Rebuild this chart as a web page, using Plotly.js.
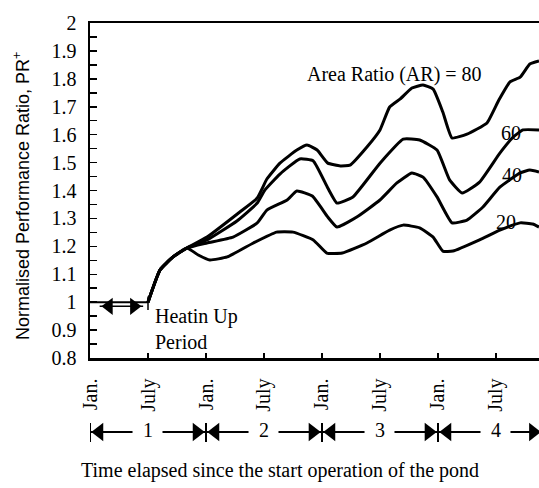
<!DOCTYPE html>
<html>
<head>
<meta charset="utf-8">
<script src="https://cdn.plot.ly/plotly-3.0.1.min.js"></script>
<style>html,body{margin:0;padding:0;background:#fff;}#chart{width:539px;height:488px;}</style>
</head>
<body>
<div id="chart"></div>
<script>
// ---- data (months since start of operation, normalised performance ratio) ----
var m80 = [6, 7.24, 8.59, 10.03, 12.1, 15.5, 17.3, 18.3, 19.65, 21.4, 22.45, 23.5, 24.6, 25.9, 26.9, 28.65, 30.0, 31.0, 32.1, 33.3, 34.45, 35.5, 36.5, 37.45, 39.0, 41.07, 42.3, 43.45, 44.5, 45.5, 46.45];
var v80 = [1.0, 1.115, 1.162, 1.194, 1.233, 1.323, 1.373, 1.441, 1.498, 1.545, 1.563, 1.545, 1.498, 1.488, 1.491, 1.556, 1.617, 1.699, 1.728, 1.767, 1.778, 1.763, 1.681, 1.588, 1.602, 1.642, 1.724, 1.789, 1.806, 1.853, 1.864];
var m60 = [6, 7.24, 8.59, 10.03, 12.1, 15.2, 17.3, 18.1, 19.65, 21.7, 23.1, 24.6, 25.55, 27.2, 30.0, 32.4, 34.1, 35.9, 37.2, 38.5, 40.3, 42.4, 43.8, 44.8, 46.45];
var v60 = [1.0, 1.115, 1.162, 1.194, 1.223, 1.291, 1.355, 1.402, 1.459, 1.513, 1.506, 1.409, 1.355, 1.377, 1.498, 1.584, 1.581, 1.545, 1.438, 1.391, 1.430, 1.534, 1.592, 1.617, 1.617];
var m40 = [6, 7.24, 8.59, 10.03, 12.1, 14.8, 17.3, 18.3, 20.4, 21.4, 23.0, 24.6, 25.55, 27.6, 30.0, 31.75, 33.3, 34.45, 35.9, 37.45, 39.0, 40.65, 42.4, 44.5, 45.5, 46.45];
var v40 = [1.0, 1.115, 1.162, 1.194, 1.212, 1.233, 1.284, 1.330, 1.366, 1.398, 1.380, 1.305, 1.269, 1.305, 1.366, 1.427, 1.463, 1.448, 1.377, 1.284, 1.294, 1.341, 1.412, 1.463, 1.473, 1.466];
var m20 = [6, 7.24, 8.59, 10.03, 11.2, 12.4, 14.2, 16.9, 19.3, 21.0, 23.1, 24.5, 26.1, 28.65, 31.0, 32.4, 34.1, 35.5, 36.5, 37.55, 40.3, 42.4, 44.5, 45.8, 46.45];
var v20 = [1.0, 1.115, 1.162, 1.194, 1.169, 1.151, 1.162, 1.212, 1.251, 1.251, 1.223, 1.176, 1.176, 1.212, 1.258, 1.276, 1.266, 1.233, 1.183, 1.183, 1.223, 1.258, 1.284, 1.280, 1.269];

var tickMonths = [0, 6, 12, 18, 24, 30, 36, 42];
var tickLabels = ['Jan.', 'July', 'Jan.', 'July', 'Jan.', 'July', 'Jan.', 'July'];
var yearLabels = ['1', '2', '3', '4'];
var yearStarts = [0, 12, 24, 36];
var yearEnds = [12, 24, 36, 46.8];
var heatStart = 0, heatEnd = 6;

var xMax = 46.45;
var serif = 'Liberation Serif, Times New Roman, serif';
var black = '#000';

// ---- traces ----
var traces = [];
function curve(m, v, name) {
  return {x: m, y: v, name: name, type: 'scatter', mode: 'lines',
    line: {color: black, width: 3, shape: 'spline', smoothing: 0.4},
    hoverinfo: 'skip', showlegend: false, cliponaxis: false};
}
traces.push(curve(m80, v80, 'AR=80'));
traces.push(curve(m60, v60, 'AR=60'));
traces.push(curve(m40, v40, 'AR=40'));
traces.push(curve(m20, v20, 'AR=20'));

// heating-up period double arrow (on main axes)
var tri = 0.96; // months from triangle tip to marker centre (size 16)
traces.push({x: [heatStart, heatEnd], y: [1.0, 1.0], mode: 'lines', line: {color: black, width: 2},
  showlegend: false, hoverinfo: 'skip', cliponaxis: false});
traces.push({x: [heatStart + 1.0, heatEnd - 0.5], y: [0.985, 0.985], mode: 'lines', line: {color: black, width: 1.5},
  showlegend: false, hoverinfo: 'skip', cliponaxis: false});
traces.push({x: [heatEnd, heatEnd], y: [0.972, 1.02], mode: 'lines', line: {color: black, width: 1.5},
  showlegend: false, hoverinfo: 'skip', cliponaxis: false});
traces.push({x: [heatStart + 1.0 + tri], y: [0.985], mode: 'markers',
  marker: {symbol: 'triangle-left', size: 15, color: black}, showlegend: false, hoverinfo: 'skip', cliponaxis: false});
traces.push({x: [heatEnd - 0.5 - tri], y: [0.985], mode: 'markers',
  marker: {symbol: 'triangle-right', size: 15, color: black}, showlegend: false, hoverinfo: 'skip', cliponaxis: false});

// year arrows row (on hidden yaxis2, units = pixels from bottom)
var rowY = 56;
var segX = [], segY = [], barX = [], barY = [], lX = [], rX = [], numX = [];
for (var i = 0; i < yearStarts.length; i++) {
  var s = yearStarts[i], e = yearEnds[i], mid = (yearStarts[i] + yearStarts[i] + 12) / 2;
  segX.push(s, mid - 1.6, null, mid + 1.5, e, null);
  segY.push(rowY, rowY, null, rowY, rowY, null);
  barX.push(s, s, null);
  barY.push(rowY - 10, rowY + 9, null);
  lX.push(s + tri);
  rX.push(e - tri);
  numX.push(mid);
}
traces.push({x: segX, y: segY, yaxis: 'y2', mode: 'lines', line: {color: black, width: 1.8},
  showlegend: false, hoverinfo: 'skip', cliponaxis: false});
traces.push({x: barX, y: barY, yaxis: 'y2', mode: 'lines', line: {color: black, width: 2},
  showlegend: false, hoverinfo: 'skip', cliponaxis: false});
traces.push({x: lX, y: lX.map(function(){return rowY;}), yaxis: 'y2', mode: 'markers',
  marker: {symbol: 'triangle-left', size: 16, color: black}, showlegend: false, hoverinfo: 'skip', cliponaxis: false});
traces.push({x: rX, y: rX.map(function(){return rowY;}), yaxis: 'y2', mode: 'markers',
  marker: {symbol: 'triangle-right', size: 16, color: black}, showlegend: false, hoverinfo: 'skip', cliponaxis: false});
traces.push({x: numX, y: numX.map(function(){return rowY;}), yaxis: 'y2', mode: 'text', text: yearLabels,
  textfont: {family: serif, size: 20, color: black}, textposition: 'middle center',
  showlegend: false, hoverinfo: 'skip', cliponaxis: false});

// ---- layout ----
var mainBottom = 130 / 465;
var annotations = [
  {text: 'Area Ratio (AR) = 80', x: 31.55, y: 1.814, xref: 'x', yref: 'y', showarrow: false,
    font: {family: serif, size: 20, color: black}},
  {text: '60', x: 43.55, y: 1.606, xref: 'x', yref: 'y', showarrow: false, font: {family: serif, size: 20, color: black}},
  {text: '40', x: 43.65, y: 1.455, xref: 'x', yref: 'y', showarrow: false, font: {family: serif, size: 20, color: black}},
  {text: '20', x: 43.03, y: 1.287, xref: 'x', yref: 'y', showarrow: false, font: {family: serif, size: 20, color: black}},
  {text: 'Heatin Up', x: 6.5, y: 0.947, xref: 'x', yref: 'y', xanchor: 'left', showarrow: false,
    font: {family: serif, size: 20, color: black}},
  {text: 'Period', x: 6.5, y: 0.857, xref: 'x', yref: 'y', xanchor: 'left', showarrow: false,
    font: {family: serif, size: 20, color: black}},
  {text: 'Normalised Performance Ratio, PR<sup>+</sup>', x: -0.1514, y: 0.628, xref: 'paper', yref: 'paper',
    xanchor: 'center', yanchor: 'middle',
    textangle: -90, showarrow: false, font: {family: 'Liberation Sans, Arial, sans-serif', size: 18, color: black}},
  {text: 'Time elapsed since the start operation of the pond', x: 0.423, y: 0.0387, xref: 'paper', yref: 'paper',
    xanchor: 'center', yanchor: 'middle',
    showarrow: false, font: {family: serif, size: 20, color: black}}
];

var layout = {
  width: 539, height: 488,
  margin: {l: 90, r: 0, t: 23, b: 0, pad: 0},
  paper_bgcolor: '#fff', plot_bgcolor: '#fff',
  showlegend: false,
  xaxis: {
    range: [0, xMax], anchor: 'y', showgrid: false, zeroline: false,
    showline: true, linecolor: black, linewidth: 2.5, mirror: true,
    tickmode: 'array', tickvals: tickMonths, ticktext: tickLabels,
    ticks: 'inside', ticklen: 5, tickwidth: 1.5, tickcolor: black,
    tickangle: -90, ticklabelstandoff: 10,
    tickfont: {family: serif, size: 20, color: black}
  },
  yaxis: {
    domain: [mainBottom, 1], range: [0.8, 2], anchor: 'x', showgrid: false, zeroline: false,
    showline: true, linecolor: black, linewidth: 2.5,
    tickmode: 'linear', tick0: 0.8, dtick: 0.1,
    ticks: 'inside', ticklen: 7, tickwidth: 1.5, tickcolor: black,
    minor: {dtick: 0.05, tick0: 0.8, ticks: 'inside', ticklen: 7, tickwidth: 1.5, tickcolor: black, showgrid: false},
    ticklabelstandoff: 7,
    tickfont: {family: serif, size: 20, color: black}
  },
  yaxis2: {domain: [0, mainBottom], range: [0, 130], anchor: 'x', visible: false, showgrid: false, zeroline: false},
  annotations: annotations
};

Plotly.newPlot('chart', traces, layout, {staticPlot: true, displayModeBar: false});
</script>
</body>
</html>
